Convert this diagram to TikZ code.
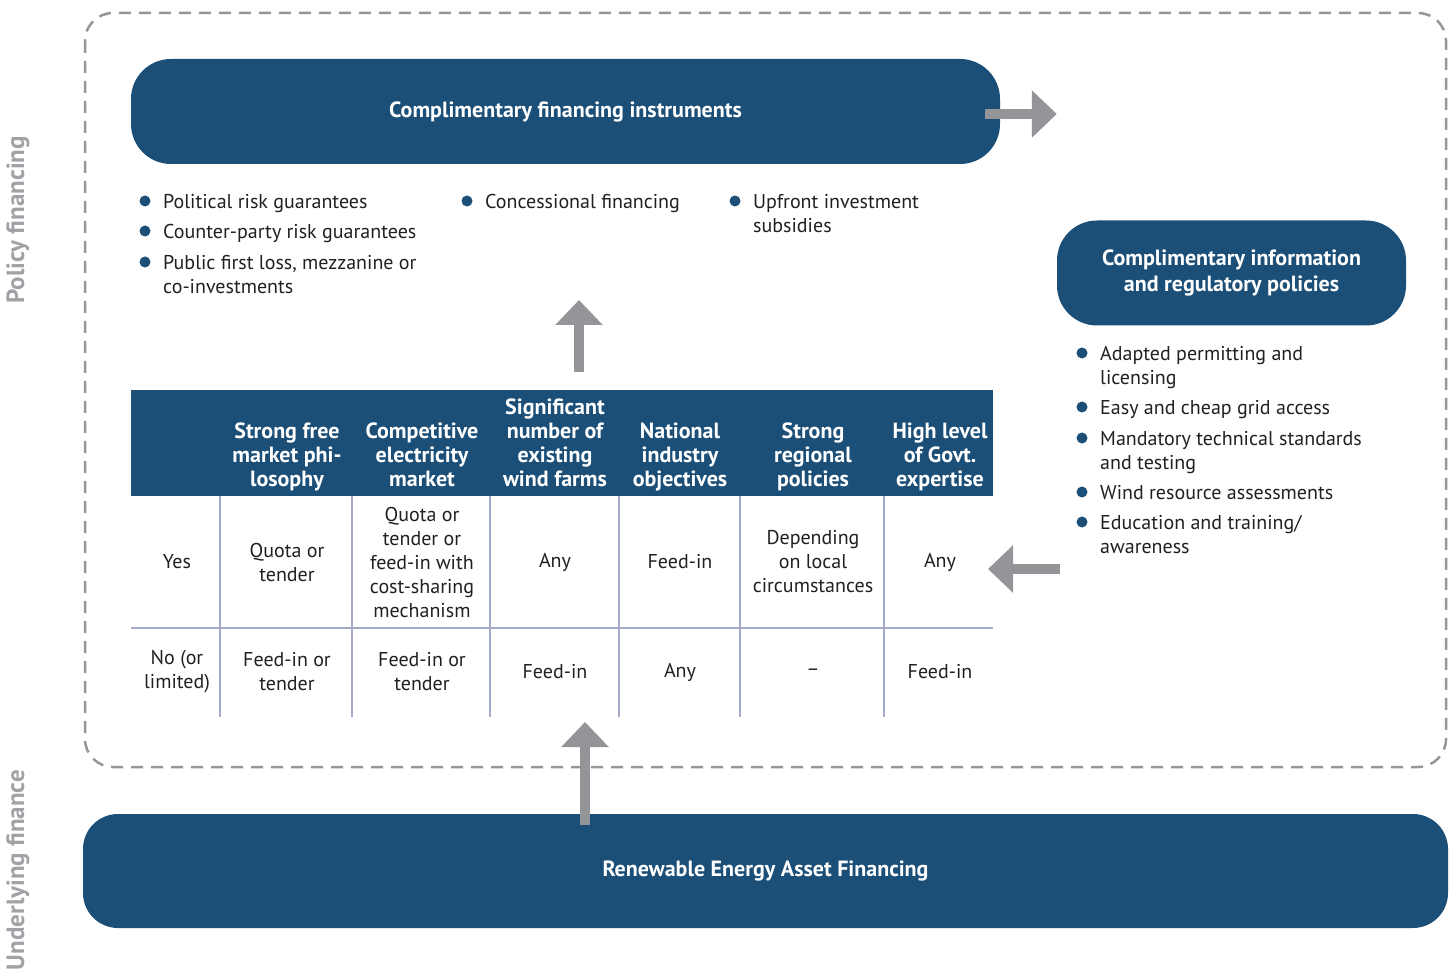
\documentclass[tikz,border=0pt]{standalone}
\usepackage{fontspec}
\setmainfont{PT Sans}
\usetikzlibrary{positioning,arrows.meta}

\definecolor{navy}{RGB}{27,79,120}
\definecolor{ink}{RGB}{35,31,32}
\definecolor{arrowgray}{RGB}{147,149,152}
\definecolor{dashgray}{RGB}{150,150,150}
\definecolor{sidegray}{RGB}{160,162,165}
\definecolor{tablegray}{RGB}{165,170,200}

\begin{document}
\begin{tikzpicture}[x=1pt,y=-1pt,
  every node/.style={font=\fontsize{20}{24}\selectfont,text=ink,inner sep=0pt},
  bigbox/.style={fill=navy,text=white,align=center,
    font=\fontsize{22}{26}\selectfont\bfseries},
  blockarrow/.style={draw=arrowgray,line width=10pt,
    -{Triangle[width=46pt,length=25pt]}},
  dot/.style={circle,fill=navy,minimum size=11pt},
  item/.style={anchor=north west,align=left},
  hd/.style={anchor=north,align=center,text=white,
    font=\fontsize{22}{24}\selectfont\bfseries},
  cell/.style={align=center},
  grid/.style={draw=tablegray,line width=1.5pt},
  side/.style={rotate=90,text=sidegray,font=\fontsize{25}{28}\selectfont\bfseries}]
  \useasboundingbox (0,0) rectangle (1454,973);

  % frame and side labels
  \draw[dashgray,line width=2.5pt,dash pattern=on 12pt off 8pt,rounded corners=28pt]
    (85,13) rectangle (1446,767);
  \node[side] (pol) at (18,220) {Policy financing};
  \node[side] (und) at (18,870) {Underlying finance};

  % boxes
  \node[bigbox,rounded corners=40pt,minimum width=869pt,minimum height=105pt]
    (fin) at (565.5,111.5) {Complimentary financing instruments};
  \node[bigbox,rounded corners=40pt,minimum width=349pt,minimum height=105pt]
    (info) at (1231.5,273) {Complimentary information\\and regulatory policies};
  \node[bigbox,rounded corners=35pt,minimum width=1365pt,minimum height=114pt]
    (asset) at (765.5,871) {Renewable Energy Asset Financing};

  % financing instruments
  \foreach \y/\t [count=\i] in {201/{Political risk guarantees},
      231/{Counter-party risk guarantees},
      262/{Public first loss, mezzanine or\\co-investments}} {
    \node[dot] (fd\i) at (145,\y) {};
    \node[item] (fi\i) at (163,\y-7) {\t};
  }
  \node[dot] (cd) at (467,201) {};
  \node[item] (ci) at (485,194) {Concessional financing};
  \node[dot] (ud) at (735,201) {};
  \node[item] (ui) at (753,194) {Upfront investment\\subsidies};

  % information and regulatory policies
  \foreach \y/\t [count=\i] in {353/{Adapted permitting and\\licensing},
      407/{Easy and cheap grid access},
      438/{Mandatory technical standards\\and testing},
      492/{Wind resource assessments},
      522/{Education and training/\\awareness}} {
    \node[dot] (rd\i) at (1082,\y) {};
    \node[item] (ri\i) at (1100,\y-7) {\t};
  }

  % table
  \fill[navy] (131,390) rectangle (993,496);
  \foreach \x in {220,352,490,619,740,884}
    \draw[grid] (\x,496) -- (\x,717);
  \draw[grid] (131,628) -- (993,628);
  \foreach \x/\y/\t in {287/423/{Strong free\\market phi-\\losophy},
      422/423/{Competitive\\electricity\\market},
      555/399/{Significant\\number of\\existing\\wind farms},
      680/423/{National\\industry\\objectives},
      813/423/{Strong\\regional\\policies},
      940/423/{High level\\of Govt.\\expertise}}
    \node[hd] (h\x) at (\x,\y) {\t};
  \foreach \x/\t in {177/Yes, 287/{Quota or\\tender},
      422/{Quota or\\tender or\\feed-in with\\cost-sharing\\mechanism},
      555/Any, 680/Feed-in, 813/{Depending\\on local\\circumstances}, 940/Any}
    \node[cell] (ya\x) at (\x,562) {\t};
  \foreach \x/\t in {177/{No (or\\limited)}, 287/{Feed-in or\\tender},
      422/{Feed-in or\\tender}, 555/Feed-in, 680/Any, 813/\textendash, 940/Feed-in}
    \node[cell] (no\x) at (\x,672) {\t};

  % arrows
  \coordinate (a1) at (985,114);
  \coordinate (a2) at (a1 -| info.west);
  \coordinate (b1) at (579,372);
  \coordinate (b2) at (579,300);
  \coordinate (c1) at (1060,569);
  \coordinate (c2) at (988,569);
  \coordinate (e1) at (585,825);
  \coordinate (e2) at (585,722);
  \draw[blockarrow] (a1) -- (a2);
  \draw[blockarrow] (b1) -- (b2);
  \draw[blockarrow] (c1) -- (c2);
  \draw[blockarrow] (e1) -- (e2);
\end{tikzpicture}
\end{document}
